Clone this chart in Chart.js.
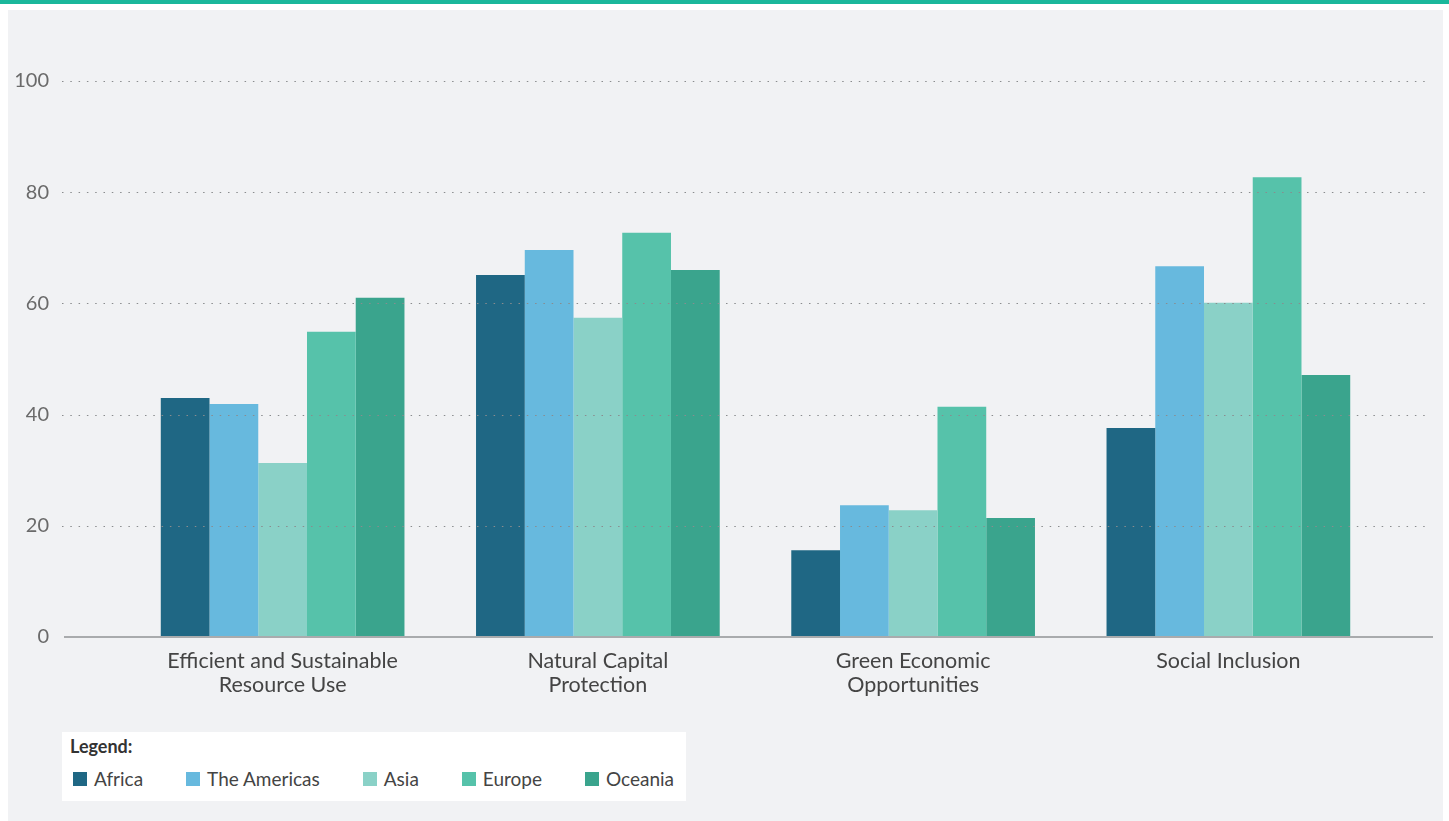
<!DOCTYPE html>
<html>
<head>
<meta charset="utf-8">
<script src="https://cdn.jsdelivr.net/npm/chart.js@4/dist/chart.umd.min.js"></script>
<style>
  html, body { margin: 0; padding: 0; background: #ffffff; }
  body { width: 1449px; height: 821px; position: relative; overflow: hidden; font-family: Lato, "Open Sans", sans-serif; }
  #topbar { position: absolute; left: 0; top: 0; width: 1449px; height: 4px; background: #1ab79b; }
  #panel { position: absolute; left: 8px; top: 10px; width: 1435px; height: 811px; background: #f1f2f4; }
  #panel canvas { position: absolute; left: 0; top: 0; }
  #legend { position: absolute; left: 54px; top: 722px; width: 624px; height: 69px; background: #ffffff; box-sizing: border-box; padding: 3px 0 0 8px; }
  #legend .title { font-weight: 700; font-size: 18px; color: #333; line-height: 22px; }
  #legend .items { display: flex; margin-top: 10px; padding-left: 3px; white-space: nowrap; }
  #legend .item { display: flex; align-items: center; flex-shrink: 0; margin-right: 43px; font-size: 19px; color: #444; }
  #legend .sw { width: 14px; height: 14px; margin-right: 7px; }
</style>
</head>
<body>
<div id="topbar"></div>
<div id="panel">
  <canvas id="chart" width="1435" height="811"></canvas>
  <div id="legend">
    <div class="title">Legend:</div>
    <div class="items" id="legendItems"></div>
  </div>
</div>
<script>
// 数据
const categories = [
  ['Efficient and Sustainable', 'Resource Use'],
  ['Natural Capital', 'Protection'],
  ['Green Economic', 'Opportunities'],
  'Social Inclusion'
];
const seriesNames = ['Africa', 'The Americas', 'Asia', 'Europe', 'Oceania'];
const seriesColors = ['#1f6784', '#67b9de', '#8ad1c7', '#56c2aa', '#3aa48d'];
const africa = [43.0, 65.1, 15.6, 37.6];
const americas = [41.9, 69.6, 23.7, 66.7];
const asia = [31.3, 57.4, 22.8, 60.1];
const europe = [54.9, 72.7, 41.4, 82.7];
const oceania = [61.0, 66.0, 21.4, 47.1];
const yTicks = [0, 20, 40, 60, 80, 100];

const seriesValues = [africa, americas, asia, europe, oceania];

// 图例
const legendItems = document.getElementById('legendItems');
seriesNames.forEach((name, i) => {
  const item = document.createElement('div');
  item.className = 'item';
  item.innerHTML = '<span class="sw" style="background:' + seriesColors[i] + '"></span>' + name;
  legendItems.appendChild(item);
});

// 网格线插件（绘制在柱子上方）
const gridPlugin = {
  id: 'dottedGrid',
  afterDatasetsDraw(chart) {
    const ctx = chart.ctx;
    const y = chart.scales.y;
    ctx.save();
    yTicks.forEach(v => {
      const py = Math.round(y.getPixelForValue(v));
      ctx.beginPath();
      if (v === 0) {
        ctx.setLineDash([]);
        ctx.strokeStyle = '#a9abad';
        ctx.lineWidth = 2;
        ctx.moveTo(56, py);
        ctx.lineTo(1425, py);
      } else {
        ctx.setLineDash([1.5, 6.8]);
        ctx.strokeStyle = '#8a8c8e';
        ctx.lineWidth = 1;
        ctx.moveTo(54, py + 0.5);
        ctx.lineTo(1422, py + 0.5);
      }
      ctx.stroke();
    });
    ctx.restore();
  }
};

const chart = new Chart(document.getElementById('chart'), {
  type: 'bar',
  data: {
    labels: categories,
    datasets: seriesNames.map((name, i) => ({
      label: name,
      data: seriesValues[i],
      backgroundColor: seriesColors[i],
      borderWidth: 0,
      barPercentage: 1.0,
      categoryPercentage: 0.773
    }))
  },
  options: {
    responsive: false,
    animation: false,
    layout: { padding: { top: 71, right: 57, left: 0, bottom: 0 } },
    plugins: {
      legend: { display: false },
      tooltip: { enabled: false }
    },
    scales: {
      x: {
        grid: { display: false, drawTicks: false },
        border: { display: false },
        ticks: {
          color: '#444444',
          padding: 12,
          maxRotation: 0,
          autoSkip: false,
          font: { family: 'Lato', size: 21.5, lineHeight: 1.12 }
        },
        afterFit(s) { s.height = 184; }
      },
      y: {
        min: 0,
        max: 100,
        grid: { display: false, drawTicks: false },
        border: { display: false },
        afterBuildTicks(s) { s.ticks = yTicks.map(v => ({ value: v })); },
        ticks: {
          color: '#6a6a6a',
          padding: 76,
          font: { family: 'Lato', size: 20 }
        },
        afterFit(s) {
          s.width = 117;
          // 标签间距很大，避免它撑高顶部留白
          s.paddingTop = 12;
          s.paddingBottom = 12;
        }
      }
    }
  },
  plugins: [gridPlugin]
});
</script>
</body>
</html>
